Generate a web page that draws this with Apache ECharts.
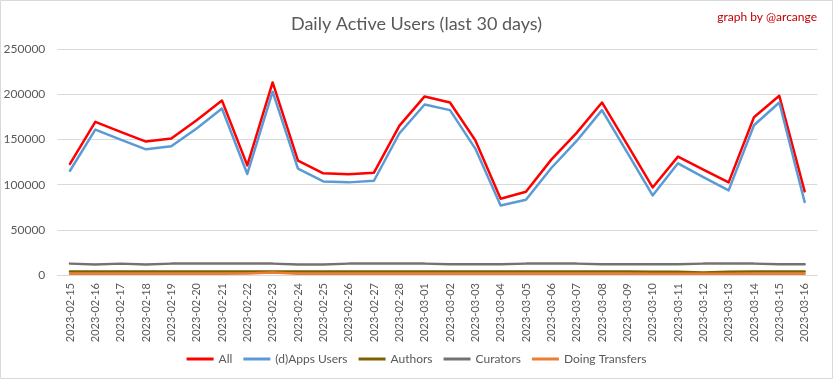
<!DOCTYPE html>
<html><head><meta charset="utf-8">
<script src="https://cdn.jsdelivr.net/npm/echarts@6/dist/echarts.min.js"></script>
<style>html,body{margin:0;padding:0;background:#fff}#c{width:833px;height:379px}</style>
</head><body><div id="c"></div>
<script>
const categories = ['2023-02-15','2023-02-16','2023-02-17','2023-02-18','2023-02-19','2023-02-20','2023-02-21','2023-02-22','2023-02-23','2023-02-24','2023-02-25','2023-02-26','2023-02-27','2023-02-28','2023-03-01','2023-03-02','2023-03-03','2023-03-04','2023-03-05','2023-03-06','2023-03-07','2023-03-08','2023-03-09','2023-03-10','2023-03-11','2023-03-12','2023-03-13','2023-03-14','2023-03-15','2023-03-16'];
const allUsers = [123000,169700,158500,147800,151100,171400,193300,121400,213300,126700,112600,111500,113300,165200,197800,191100,149200,84400,92200,127800,157400,191100,144400,97000,131100,116700,102600,174800,198500,92600];
const appsUsers = [115500,161100,150000,139200,142600,162200,184400,111900,203000,117800,103700,102600,104400,156700,188900,182600,140000,77000,83300,118500,148500,182600,135500,88100,123700,108500,93700,165900,191100,80800];
const authors = [3800,3800,3800,3800,3800,3800,3800,3800,3900,3800,3800,3800,3800,3800,3800,3800,3800,3800,3800,3800,3800,3800,3800,3700,3500,2900,3500,3800,3800,3800];
const curators = [12600,11700,12600,11700,12600,12600,12600,12600,12600,11700,11700,12600,12600,12600,12600,11800,11800,11800,12600,12600,12600,11800,11800,11800,11800,12600,12600,12600,11800,11800];
const doingTransfers = [1500,1500,1500,1500,1500,1500,1500,1600,2800,1500,1500,1500,1500,1500,1500,1500,1500,1500,1500,1500,1500,1500,1500,1500,1500,1500,1500,1500,1500,1500];
const yTicks = [0,50000,100000,150000,200000,250000];

const chart = echarts.init(document.getElementById('c'));
const font = 'Lato, "Open Sans", sans-serif';
function line(name, data, color, w) {
  return {name, type:'line', data, symbol:'none', smooth:false,
    lineStyle:{color, width:w, cap:'round', join:'round'}, itemStyle:{color}, z: 2};
}
chart.setOption({
  animation:false,
  backgroundColor:'#fff',
  textStyle:{fontFamily:font},
  title:[{text:'Daily Active Users (last 30 days)', left:'center', top:10,
    textStyle:{fontFamily:font, fontSize:18, fontWeight:'normal', color:'#595959'}},
    {text:'graph by @arcange', right:11, top:6,
    textStyle:{fontFamily:font, fontSize:12, fontWeight:'normal', color:'#C00000'}}],
  graphic:[{type:'rect', shape:{x:0.5,y:0.5,width:832,height:378}, style:{fill:'none', stroke:'#D9D9D9', lineWidth:1}, z:-1}],
  legend:{bottom:9, left:'center', itemWidth:27, itemHeight:3, itemGap:11,
    icon:'rect',
    textStyle:{fontFamily:font, fontSize:12, color:'#595959'},
    data:['All','(d)Apps Users','Authors','Curators','Doing Transfers']},
  grid:{left:57.3, right:15.7, top:49.3, bottom:104},
  xAxis:{type:'category', data:categories, boundaryGap:true,
    axisLine:{lineStyle:{color:'#D9D9D9', width:1}},
    axisTick:{show:false},
    axisLabel:{rotate:90, interval:0, fontSize:11, color:'#595959', margin:8, fontFamily:font}},
  yAxis:{type:'value', min:0, max:250000, interval:50000,
    axisLine:{show:false}, axisTick:{show:false},
    splitLine:{lineStyle:{color:'#D9D9D9', width:1}},
    axisLabel:{fontSize:12, color:'#595959', margin:12, fontFamily:font,
      formatter:v => yTicks.includes(v) ? String(v) : ''}},
  series:[
    line('All', allUsers, '#FF0000', 2.5),
    line('(d)Apps Users', appsUsers, '#5B9BD5', 2.5),
    line('Authors', authors, '#7F6000', 2.5),
    line('Curators', curators, '#767171', 2.5),
    line('Doing Transfers', doingTransfers, '#ED7D31', 2.5)
  ]
});
</script></body></html>
